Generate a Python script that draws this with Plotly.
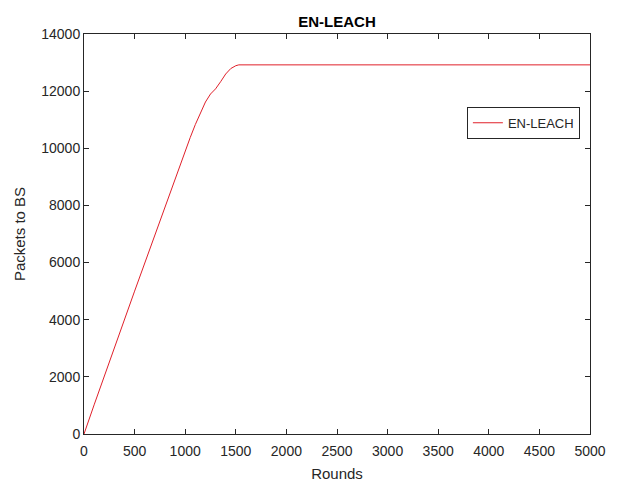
import plotly.graph_objects as go

rounds = [0, 100, 500, 900, 1000, 1050, 1100, 1150, 1200, 1250, 1300, 1350, 1400, 1450, 1500, 1530, 5000]
packets = [0, 1020, 5000, 8950, 9900, 10380, 10830, 11250, 11620, 11900, 12080, 12330, 12600, 12790, 12890, 12920, 12920]

x_ticks = list(range(0, 5001, 500))
y_ticks = list(range(0, 14001, 2000))

FONT = "Liberation Sans, Arial, sans-serif"
AX = "#262626"

fig = go.Figure()
fig.add_trace(go.Scatter(x=rounds, y=packets, mode="lines", name="EN-LEACH",
                         line=dict(color="#e0202a", width=1)))

fig.update_layout(
    width=617, height=484,
    margin=dict(l=84, r=27, t=34, b=50),
    paper_bgcolor="white", plot_bgcolor="white",
    font=dict(family=FONT, size=14, color=AX),
    title=dict(text="<b>EN-LEACH</b>", x=0.5 + (84 - 27) / 2 / 617,
               xanchor="center", y=1 - 22 / 484, yanchor="middle",
               font=dict(size=15, color="#000000", family=FONT)),
    showlegend=True,
    legend=dict(x=0.98, y=0.818, xanchor="right", yanchor="top",
                bgcolor="white", bordercolor=AX, borderwidth=1,
                font=dict(size=13, color=AX, family=FONT)),
)

fig.update_xaxes(range=[0, 5000], tickvals=x_ticks, ticktext=[str(v) for v in x_ticks],
                 ticks="inside", ticklen=5, tickcolor=AX, showline=True, linecolor=AX,
                 linewidth=1, mirror="ticks", showgrid=False, zeroline=False,
                 tickfont=dict(size=14), ticklabelstandoff=4, automargin=False,
                 title=dict(text="Rounds", font=dict(size=15, color=AX), standoff=10))
fig.update_yaxes(range=[0, 14000], tickvals=y_ticks, ticktext=[str(v) for v in y_ticks],
                 ticks="inside", ticklen=5, tickcolor=AX, showline=True, linecolor=AX,
                 linewidth=1, mirror="ticks", showgrid=False, zeroline=False,
                 tickfont=dict(size=14), automargin=False,
                 title=dict(text="Packets to BS", font=dict(size=15, color=AX), standoff=12))

fig.write_html("out.html")
